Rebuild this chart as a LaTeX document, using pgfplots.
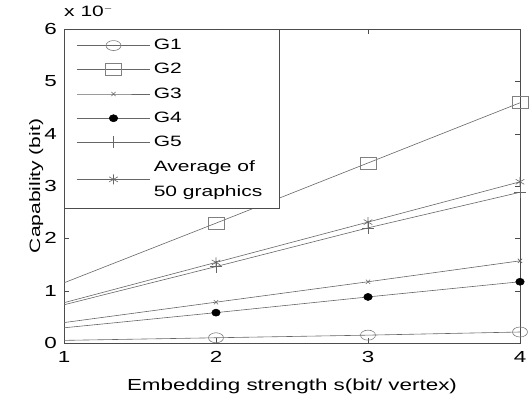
\documentclass[border=0pt]{standalone}
\usepackage{fontspec}
\setmainfont{Liberation Sans}[FakeStretch=1.4]
\usepackage{pgfplots}
\pgfplotsset{compat=1.18}
\begin{document}
\fontsize{15}{18}\selectfont
\begin{tikzpicture}
\useasboundingbox (-64pt,-55pt) rectangle (466pt,343pt);
\begin{axis}[
  name=main,
  at={(0,0)}, anchor=south west,
  scale only axis, width=456pt, height=314pt,
  xmin=1, xmax=4, ymin=0, ymax=6,
  xtick={1,2,3,4}, ytick={0,1,2,3,4,5,6},
  major tick length=5pt,
  tick style={black!70},
  axis line style={black!70, line width=0.6pt},
  /pgf/number format/assume math mode=true,
  tick label style={font=\fontsize{16}{18}\selectfont},
  xticklabel style={yshift=-3pt},
  yticklabel style={xshift=-2pt},
  xlabel={Embedding strength s(bit/ vertex)},
  ylabel={Capability (bit)},
  xlabel style={font=\fontsize{16}{18}\selectfont, yshift=-6pt},
  ylabel style={font=\fontsize{15}{18}\selectfont, yshift=-9pt},
  every axis plot/.append style={line width=0.6pt, black!60},
  legend cell align=left,
  legend image code/.code={\draw[#1, mark indices={2}] plot coordinates {(0pt,0pt) (36pt,0pt) (72pt,0pt)};},
  legend style={at={(0,1)}, anchor=north west, draw=black!70, fill=white,
    font=\fontsize{15}{25}\selectfont, inner xsep=13pt, inner ysep=7pt,
    row sep=5.5pt, nodes={align=left, inner ysep=3pt, inner xsep=4pt}},
]
\addplot[mark=o, mark size=5pt, mark indices={2,3,4}, mark options={xscale=1.5, black!50}] coordinates {(1,0.05)(2,0.10)(3,0.15)(4,0.21)};
\addlegendentry{G1}
\addplot[mark=square, mark size=6pt, mark indices={2,3,4}, mark options={xscale=1.3, black!50}] coordinates {(1,1.15)(2,2.29)(3,3.44)(4,4.59)};
\addlegendentry{G2}
\addplot[mark=x, mark size=3pt, mark indices={2,3,4}, mark options={black!60}] coordinates {(1,0.39)(2,0.78)(3,1.17)(4,1.57)};
\addlegendentry{G3}
\addplot[mark=*, mark size=3.5pt, mark indices={2,3,4}, mark options={xscale=1.2, black, fill=black}] coordinates {(1,0.29)(2,0.58)(3,0.88)(4,1.17)};
\addlegendentry{G4}
\addplot[mark=+, mark size=6pt, mark indices={2,3,4}, mark options={black!60}] coordinates {(1,0.73)(2,1.46)(3,2.20)(4,2.88)};
\addlegendentry{G5}
\addplot[mark=asterisk, mark size=5pt, mark indices={2,3,4}, mark options={black!60}] coordinates {(1,0.77)(2,1.54)(3,2.31)(4,3.08)};
\addlegendentry{Average of\\50 graphics}
\end{axis}
\node[anchor=base west, inner sep=0pt, font=\fontsize{15}{18}\selectfont] at ([yshift=12pt]main.north west) {x 10$^{-}$};
\end{tikzpicture}
\end{document}
